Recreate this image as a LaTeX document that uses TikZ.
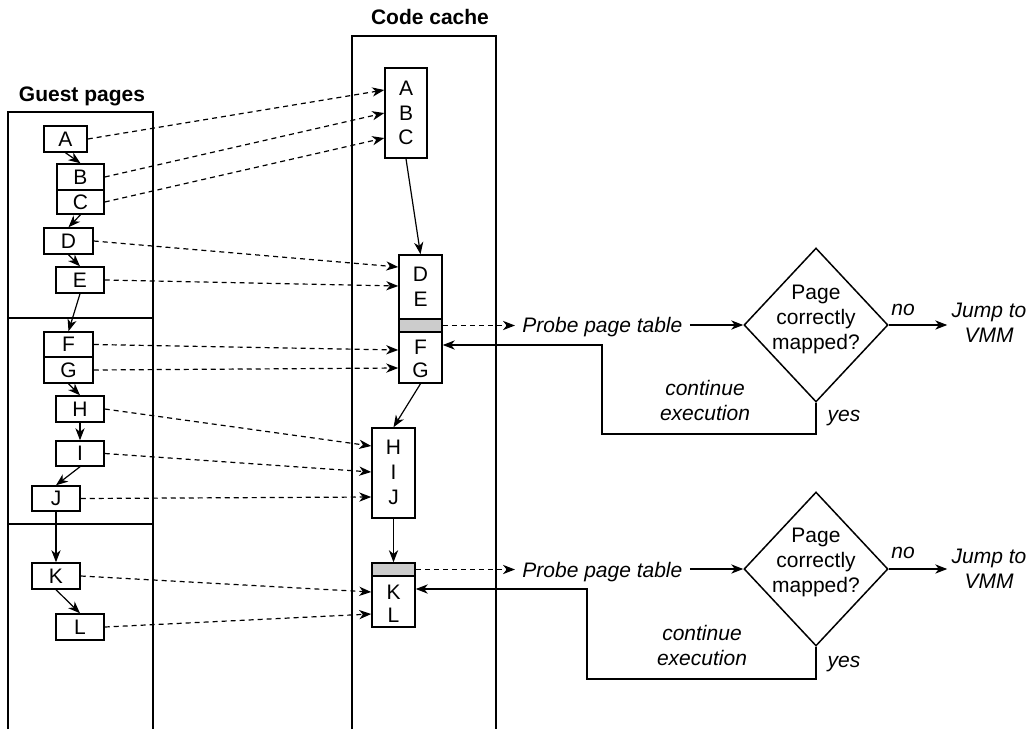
\documentclass[tikz,border=0pt]{standalone}
\usepackage{fontspec}
\setmainfont{Liberation Sans}
\usetikzlibrary{shapes.geometric,arrows.meta,calc}
\begin{document}
\begin{tikzpicture}[x=0.5pt,y=-0.5pt,
  every node/.style={font=\fontsize{10.5}{12.5}\selectfont},
  frame/.style={line width=1pt},
  gbox/.style={draw,line width=0.75pt,inner sep=0pt,minimum height=13pt},
  cbox/.style={draw,line width=0.75pt,inner sep=0pt,minimum width=21.5pt},
  band/.style={draw,fill=gray!40,line width=0.75pt,inner sep=0pt,minimum width=21.5pt,minimum height=6.5pt},
  arr/.style={line width=0.6pt,-{Stealth[length=6pt,width=4.6pt,inset=1.8pt]}},
  darr/.style={arr,dash pattern=on 2.5pt off 2pt},
  lbl/.style={font=\fontsize{10.5}{12.5}\selectfont\itshape},
  ttl/.style={font=\fontsize{10.5}{12.5}\selectfont\bfseries},
  dia/.style={diamond,draw,line width=0.75pt,minimum width=72pt,minimum height=77pt,inner sep=0pt},
]
\useasboundingbox (0,0) rectangle (1034,729);

% columns
\draw[frame] (8,729) -- (8,112) -- (153,112) -- (153,729);
\draw[frame] (8,318) -- (153,318);
\draw[frame] (8,524) -- (153,524);
\draw[frame] (352,729) -- (352,36) -- (496,36) -- (496,729);
\node[ttl] (tg) at (82,96) {Guest pages};
\node[ttl] (tc) at (430,17) {Code cache};

% guest pages
\node[gbox,minimum width=21.5pt] (gA) at (65.5,139) {A};
\node[gbox,minimum width=23.5pt] (gB) at (80.5,177) {B};
\node[gbox,minimum width=23.5pt,minimum height=12pt] (gC) at (80.5,202) {C};
\node[gbox,minimum width=24.5pt] (gD) at (68.5,241) {D};
\node[gbox,minimum width=24pt] (gE) at (80,280) {E};
\node[gbox,minimum width=24.5pt,minimum height=12.5pt] (gF) at (68.5,344.5) {F};
\node[gbox,minimum width=24.5pt] (gG) at (68.5,370) {G};
\node[gbox,minimum width=24pt] (gH) at (80,409) {H};
\node[gbox,minimum width=24pt,minimum height=12.5pt] (gI) at (80,453.5) {I};
\node[gbox,minimum width=24pt,minimum height=12.5pt] (gJ) at (56,498.5) {J};
\node[gbox,minimum width=24pt] (gK) at (56,576) {K};
\node[gbox,minimum width=24pt] (gL) at (80,627) {L};

\draw[arr] (gA.south) -- (gB.north);
\draw[arr] (gC.south) -- (gD.north);
\draw[arr] (gD.south) -- (gE.north);
\draw[arr] (gE.south) -- (gF.north);
\draw[arr] (gG.south) -- (gH.north);
\draw[arr] (gH.south) -- (gI.north);
\draw[arr] (gI.south) -- (gJ.north);
\draw[arr] (gJ.south) -- (gK.north);
\draw[arr] (gK.south) -- (gL.north);

% code cache
\node[cbox,minimum width=21pt,minimum height=45pt] (abc) at (406,113) {};
\node[cbox,minimum height=64pt] (dg) at (420.5,319) {};
\node[band] (b1) at (420.5,325.5) {};
\node[cbox,minimum height=45pt] (hj) at (393.5,473) {};
\node[cbox,minimum height=32pt] (kl) at (393.5,595) {};
\node[band] (b2) at (393.5,569.5) {};

\node (cA) at (406,88) {A};
\node (cB) at (406,113) {B};
\node (cC) at (406,137) {C};
\node (cD) at (420.5,274) {D};
\node (cE) at (420.5,299) {E};
\node (cF) at (420.5,347) {F};
\node (cG) at (420.5,370) {G};
\node (cH) at (393.5,447) {H};
\node (cI) at (393.5,472) {I};
\node (cJ) at (393.5,497) {J};
\node (cK) at (393.5,592) {K};
\node (cL) at (393.5,615) {L};

\draw[arr] (abc.south) -- (dg.north);
\draw[arr] (dg.south) -- (hj.north);
\draw[arr] (hj.south) -- (kl.north);

% translation arrows
\draw[darr] (gA.east) -- (abc.west |- 0,90);
\draw[darr] (gB.east) -- (abc.west |- 0,113);
\draw[darr] (gC.east) -- (abc.west |- 0,138);
\draw[darr] (gD.east) -- (dg.west |- 0,267);
\draw[darr] (gE.east) -- (dg.west |- 0,286);
\draw[darr] (gF.east) -- (dg.west |- 0,350);
\draw[darr] (gG.east) -- (dg.west |- 0,368);
\draw[darr] (gH.east) -- (hj.west |- 0,446);
\draw[darr] (gI.east) -- (hj.west |- 0,472);
\draw[darr] (gJ.east) -- (hj.west |- 0,497);
\draw[darr] (gK.east) -- (kl.west |- 0,592);
\draw[darr] (gL.east) -- (kl.west |- 0,614);

% first check
\node[lbl,anchor=west,inner sep=3.5pt] (p1) at (515,327.5) {Probe page table};
\node[dia] (d1) at (816,325) {};
\node[align=center] (t1) at (816,319) {Page\\correctly\\mapped?};
\node[lbl] (no1) at (903,310) {no};
\node[lbl,align=center,inner sep=2pt] (j1) at (989,323) {Jump to\\VMM};
\node[lbl,align=center] (ce1) at (705,400) {continue\\execution};
\node[lbl] (y1) at (844,418) {yes};
\draw[darr] (b1.east) -- (b1.east -| p1.west);
\draw[arr] (p1.east |- d1.west) -- (d1.west);
\draw[arr] (d1.east) -- (d1.east -| j1.west);
\draw[arr] (d1.south) |- (602,434) |- (dg.east |- 0,345);

% second check
\node[lbl,anchor=west,inner sep=3.5pt] (p2) at (515,572) {Probe page table};
\node[dia] (d2) at (816,569) {};
\node[align=center] (t2) at (816,562) {Page\\correctly\\mapped?};
\node[lbl] (no2) at (903,553) {no};
\node[lbl,align=center,inner sep=2pt] (j2) at (989,569) {Jump to\\VMM};
\node[lbl,align=center] (ce2) at (702,645) {continue\\execution};
\node[lbl] (y2) at (844,664) {yes};
\draw[darr] (b2.east) -- (b2.east -| p2.west);
\draw[arr] (p2.east |- d2.west) -- (d2.west);
\draw[arr] (d2.east) -- (d2.east -| j2.west);
\draw[arr] (d2.south) |- (587,679) |- (kl.east |- 0,589);
\end{tikzpicture}
\end{document}
